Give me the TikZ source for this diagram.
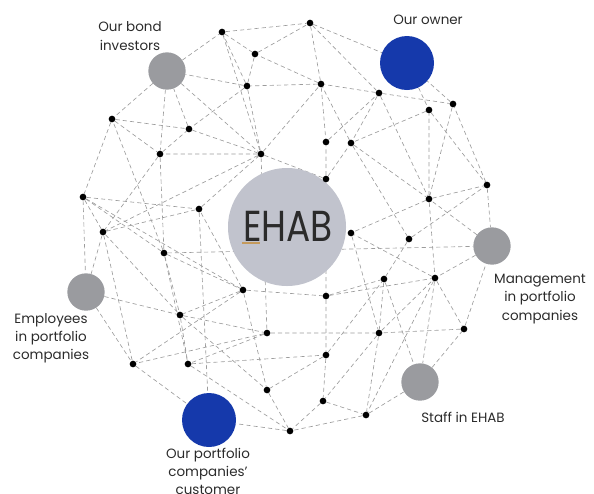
\documentclass[tikz,border=0pt]{standalone}
\usepackage{fontspec}
\setmainfont{Poppins}
\usetikzlibrary{backgrounds}
\definecolor{hubgrey}{HTML}{C1C3CD}
\definecolor{stakegrey}{HTML}{9A9B9F}
\definecolor{stakeblue}{HTML}{1539AB}
\definecolor{linkgrey}{HTML}{9C9C9C}
\definecolor{labelgrey}{HTML}{2B2B2B}
\definecolor{ehabgold}{HTML}{C49A5C}
\tikzset{
  dot/.style={circle,fill=black,inner sep=0pt,minimum size=0.2cm},
  link/.style={draw=linkgrey,dash pattern=on 3.6pt off 2.6pt,line width=0.55pt},
  greyball/.style={circle,fill=stakegrey,inner sep=0pt,minimum size=1.12cm},
  blueball/.style={circle,fill=stakeblue,inner sep=0pt,minimum size=1.62cm},
  lbl/.style={text=labelgrey,align=center,inner sep=0pt,font=\fontsize{11.5}{15.5}\selectfont}
}

\begin{document}
\begin{tikzpicture}[x=0.03cm,y=-0.03cm]
                    \useasboundingbox (0,0) rectangle (594,493);
                    % hub and stakeholders
                    \node[circle,fill=hubgrey,inner sep=0pt,minimum size=3.54cm] (ehab) at (287,227) {};
                    \node[text=labelgrey,inner sep=0pt] (ehabtxt) at (288,226) {\scalebox{0.83}[1]{\fontsize{37}{37}\selectfont EHAB}};
                    \draw[ehabgold,line width=1.3pt] (242,243)--(260,243);
                    \node[greyball] (bond) at (167,71) {};
                    \node[blueball] (owner) at (407,63) {};
                    \node[greyball] (mgmt) at (492,246) {};
                    \node[greyball] (emp) at (86,292) {};
                    \node[greyball] (staff) at (420,382) {};
                    \node[blueball] (cust) at (209,420) {};

                    \node[lbl] (bondtxt) at (130,36) {Our bond\\investors};
                    \node[lbl] (ownertxt) at (428,20) {Our owner};
                    \node[lbl] (mgmttxt) at (540,299) {Management\\in portfolio\\companies};
                    \node[lbl] (emptxt) at (51,338) {Employees\\in portfolio\\companies};
                    \node[lbl] (stafftxt) at (463,417) {Staff in EHAB};
                    \node[lbl,anchor=north] (custtxt) at (208,448) {Our portfolio\\companies'\\customer};

                    % dots
                    \node[dot] (a1) at (222,32) {};
                    \node[dot] (a2) at (310,23) {};
                    \node[dot] (a3) at (255,54) {};
                    \node[dot] (a4) at (247,86) {};
                    \node[dot] (a5) at (321,84) {};
                    \node[dot] (a6) at (379,93) {};
                    \node[dot] (a7) at (429,110) {};
                    \node[dot] (a8) at (453,104) {};
                    \node[dot] (b1) at (112,119) {};
                    \node[dot] (b2) at (189,129) {};
                    \node[dot] (b3) at (160,154) {};
                    \node[dot] (b4) at (261,154) {};
                    \node[dot] (b5) at (326,142) {};
                    \node[dot] (b6) at (351,143) {};
                    \node[dot] (b7) at (487,185) {};
                    \node[dot] (b8) at (429,199) {};
                    \node[dot] (c1) at (83,197) {};
                    \node[dot] (c2) at (199,209) {};
                    \node[dot] (c3) at (103,232) {};
                    \node[dot] (c4) at (326,179) {};
                    \node[dot] (c5) at (164,253) {};
                    \node[dot] (c6) at (351,233) {};
                    \node[dot] (c7) at (409,239) {};
                    \node[dot] (d1) at (243,290) {};
                    \node[dot] (d2) at (326,296) {};
                    \node[dot] (d3) at (384,279) {};
                    \node[dot] (d4) at (435,278) {};
                    \node[dot] (d5) at (180,315) {};
                    \node[dot] (d6) at (267,333) {};
                    \node[dot] (d7) at (379,333) {};
                    \node[dot] (d8) at (464,329) {};
                    \node[dot] (e1) at (133,364) {};
                    \node[dot] (e2) at (188,364) {};
                    \node[dot] (e3) at (326,355) {};
                    \node[dot] (e4) at (267,390) {};
                    \node[dot] (e5) at (323,401) {};
                    \node[dot] (e6) at (366,415) {};
                    \node[dot] (e7) at (290,431) {};

                    \begin{scope}[on background layer]
                    % top
                    \draw[link] (bond)--(a1)--(a2)--(owner);
                    \draw[link] (a1)--(a3)--(a4)--(a1)--(b4);
                    \draw[link] (a3)--(a2)--(a5)--(a3);
                    \draw[link] (a2)--(a6)--(a5)--(a4)--(bond);
                    \draw[link] (a4)--(b2) (a4)--(b4)--(a5)--(b5)--(a6)--(b6)--(a5);
                    \draw[link] (a6)--(a8)--(owner)--(a7)--(b6);
                    \draw[link] (a7)--(b7)--(a8)--(b8)--(a7) (a6)--(b8);
                    % upper left
                    \draw[link] (bond)--(b1)--(b2)--(bond)--(b3) (bond)--(b4);
                    \draw[link] (b1)--(b3)--(b2)--(b4)--(b3)--(c5)--(b1)--(c1);
                    \draw[link] (b3)--(c3) (b4)--(c4)--(b5) (b4)--(c3)--(c2)--(b4);
                    \draw[link] (c1)--(c2) (c1)--(c5) (c1)--(c3) (c1)--(emp);
                    \draw[link] (c4)--(b6)--(c7) (b6)--(b8);
                    % right
                    \draw[link] (b8)--(b7)--(mgmt)--(b8)--(c6) (c7)--(b7);
                    \draw[link] (b8)--(d4)--(c6)--(d7) (c7)--(d3) (c5)--(mgmt);
                    \draw[link] (mgmt)--(d4)--(d8)--(mgmt) (d2)--(d4)--(staff);
                    \draw[link] (d2)--(d3)--(staff)--(d8)--(d7)--(d4)--(e6);
                    \draw[link] (d3)--(d7)--(e6)--(staff) (d6)--(d7)--(e5);
                    \draw[link] (e5)--(e6)--(e7);
                    % lower middle
                    \draw[link] (c1)--(d1)--(c2) (d1)--(d2) (d1)--(d5) (d1)--(e4);
                    \draw[link] (c5)--(d1)--(e1) (c5)--(d5)--(c3)--(e1);
                    \draw[link] (c3)--(emp)--(d5)--(e2)--(c5) (emp)--(e1)--(cust);
                    \draw[link] (d5)--(d6)--(e2)--(e3) (d5)--(e4) (e2)--(e7);
                    \draw[link] (c2)--(cust) (b4)--(d6)--(e1) (c4)--(d2)--(e3);
                    \draw[link] (e3)--(e4)--(e7)--(cust) (e3)--(e5)--(e7) (e3)--(d3);
                    \end{scope}
                \end{tikzpicture}
\end{document}
